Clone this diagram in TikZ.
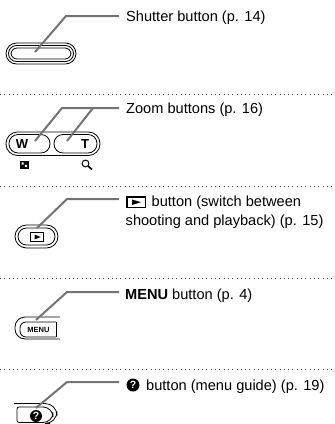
\documentclass[tikz,border=0pt]{standalone}
\usepackage{fontspec}
\setmainfont{Liberation Sans}
\begin{document}
\begin{tikzpicture}[x=1pt,y=-1pt,
  label/.style={anchor=base west,inner sep=0pt,font=\fontsize{14.6}{19}\selectfont,text=black},
  leader/.style={draw=black!55,line width=2pt},
  sep/.style={draw=black!70,line width=1pt,dash pattern=on 1pt off 3.3pt},
  btn/.style={draw=black,line width=0.8pt},
  qmark/.style={circle,fill=black,text=white,inner sep=0pt,minimum size=#1,font=\bfseries\fontsize{10.5}{10.5}\selectfont}]
\useasboundingbox (0,0) rectangle (335,424);
\fill[white] (0,0) rectangle (335,424);
% separators
\foreach \n/\y in {a/94,b/186,c/278,d/369}{
  \coordinate (s\n l) at (0,\y); \coordinate (s\n r) at (335,\y);
  \draw[sep] (s\n l) -- (s\n r);
}
% shutter
\draw[btn,rounded corners=10.5pt] (6,43) rectangle (76,64);
\draw[btn,rounded corners=8pt] (8.5,45.5) rectangle (73.5,61.5);
\draw[btn,rounded corners=6pt] (11,48) rectangle (71,59);
\node[label] (t1) at (126,21) {Shutter button (p. 14)};
\coordinate (p1) at (35,52); \coordinate (k1) at (66,16); \coordinate (e1) at (119,16);
\draw[leader] (p1) -- (k1) -- (e1);
% zoom
\draw[btn,rounded corners=11.5pt] (6,132) rectangle (100,155.5);
\draw[btn,rounded corners=9pt] (9,134.5) -- (50,134.5) -- (50,153) -- (9,153) -- cycle;
\draw[btn,rounded corners=9pt] (54,134.5) -- (97,134.5) -- (97,153) -- (54,153) -- cycle;
\node[inner sep=0pt,font=\bfseries\fontsize{13}{13}\selectfont] (w) at (22,144) {W};
\node[inner sep=0pt,font=\bfseries\fontsize{13}{13}\selectfont] (tt) at (85,144) {T};
\fill (20,161) rectangle (28.5,168.5);
\fill[white] (21.5,162.3) rectangle (23.7,164.5) (24.8,164.8) rectangle (27,167);
\draw[line width=1pt] (85.5,163.5) circle (3.4);
\draw[line width=1.6pt] (88,166) -- (92,169.5);
\node[label] (t2) at (126,113) {Zoom buttons (p. 16)};
\coordinate (p2) at (35,141); \coordinate (k2) at (62,108); \coordinate (e2) at (119,108);
\coordinate (p3) at (67,141); \coordinate (k3) at (93,108);
\draw[leader] (p2) -- (k2) -- (e2);
\draw[leader] (p3) -- (k3);
% playback
\draw[btn,rounded corners=11.5pt] (15,225) rectangle (58,248);
\draw[btn,rounded corners=8.5pt] (18,228) rectangle (55,245);
\draw[line width=0.8pt] (30.5,232.5) rectangle (43.5,241.5);
\fill (34.5,234.5) -- (40.5,237) -- (34.5,239.5) -- cycle;
\draw[line width=1.2pt] (127,197) rectangle (145.5,207.5);
\fill (132,199.5) -- (141,202.2) -- (132,205) -- cycle;
\node[label] (t3) at (151.5,206) {button (switch between};
\node[label] (t3b) at (125.5,225) {shooting and playback) (p. 15)};
\coordinate (p4) at (37,228); \coordinate (k4) at (67,199); \coordinate (e4) at (119,199);
\draw[leader] (p4) -- (k4) -- (e4);
% menu
\draw[btn,rounded corners=10pt] (60,317) -- (15,317) -- (15,339) -- (60,339);
\draw[btn,rounded corners=6pt] (56,322) -- (20,322) -- (20,337) -- (56,337);
\draw[btn] (56,322) -- (56,337);
\node[inner sep=0pt,font=\fontsize{7.5}{7.5}\selectfont\bfseries] (m) at (38.5,329.5) {MENU};
\node[label,font=\bfseries\fontsize{14.6}{19}\selectfont] (t4) at (125,299) {MENU};
\node[label] (t4b) at (172,299) {button (p. 4)};
\coordinate (p5) at (36,320); \coordinate (k5) at (67,292); \coordinate (e5) at (119,292);
\draw[leader] (p5) -- (k5) -- (e5);
% help
\draw[btn,rounded corners=12pt] (14,403.5) -- (57,403.5) -- (57,423.5) -- (50,423.5);
\draw[btn,rounded corners=2pt] (20,407) -- (17,407) -- (17,422.5) -- (20,422.5);
\draw[btn,rounded corners=10pt] (20,407) -- (53,407) -- (53,422.5) -- (20,422.5);
\node[qmark=12pt] (q) at (36,416) {?};
\node[qmark=13pt] (q2) at (133,385) {?};
\node[label] (t5) at (146,390) {button (menu guide) (p. 19)};
\coordinate (p6) at (36,408); \coordinate (k6) at (67,382); \coordinate (e6) at (119,382);
\draw[leader] (p6) -- (k6) -- (e6);
\end{tikzpicture}
\end{document}
